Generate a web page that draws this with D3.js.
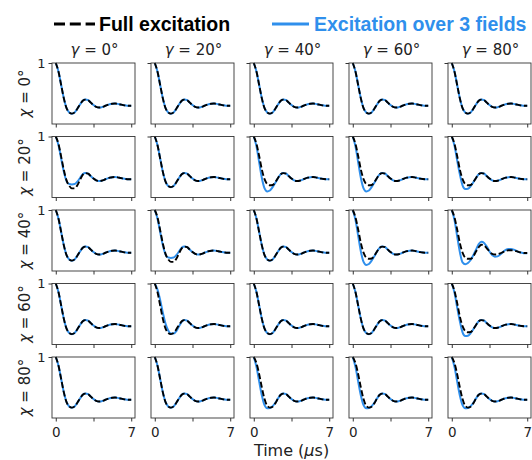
<!DOCTYPE html>
<html><head><meta charset="utf-8">
<script src="https://cdn.jsdelivr.net/npm/d3@7"></script>
<style>body{margin:0;background:#fff}svg{display:block}</style>
</head><body>
<div id="chart"></div>
<script>
const gammaLabels = ["0°","20°","40°","60°","80°"];
const chiLabels = ["0°","20°","40°","60°","80°"];
const xTicks = [0, 3.5, 7];
const xTickLabels = {0:"0", 7:"7"};
const yTicks = [1];
const times = [0,0.25,0.5,0.75,1,1.25,1.5,1.75,2,2.25,2.5,2.75,3,3.25,3.5,3.75,4,4.25,4.5,4.75,5,5.25,5.5,5.75,6,6.25,6.5,6.75,7];
const tail = [0.39,0.35,0.31,0.28,0.27,0.275,0.29,0.31,0.325,0.333,0.335,0.33,0.32,0.31,0.303,0.30,0.30];

const fullBase     = [1.00,0.86,0.64,0.42,0.26,0.19,0.17,0.19,0.25,0.32,0.38,0.40].concat(tail);
const fullFlat     = [1.00,0.88,0.68,0.46,0.30,0.22,0.20,0.205,0.25,0.32,0.38,0.40].concat(tail);
const fullFlatHigh = [1.00,0.88,0.68,0.46,0.30,0.22,0.20,0.20,0.24,0.32,0.39,0.43,0.42,0.37,0.32,0.28,0.27,0.275,0.29,0.31,0.33,0.34,0.34,0.335,0.325,0.31,0.30,0.295,0.295];
const fullDeepLate = [1.00,0.88,0.67,0.45,0.28,0.19,0.15,0.15,0.20,0.29,0.37,0.40].concat(tail);
const fullLate     = [1.00,0.90,0.72,0.50,0.31,0.20,0.17,0.185,0.24,0.32,0.38,0.40].concat(tail);

const blueBase    = [1.00,0.86,0.64,0.42,0.26,0.19,0.17,0.19,0.25,0.32,0.38,0.40].concat(tail);
const blueDeep    = [1.00,0.84,0.58,0.32,0.15,0.10,0.115,0.17,0.24,0.32,0.38,0.40].concat(tail);
const blueMid     = [1.00,0.85,0.61,0.38,0.20,0.14,0.145,0.185,0.25,0.32,0.38,0.40].concat(tail);
const blueBig     = [1.00,0.84,0.57,0.31,0.14,0.11,0.13,0.18,0.26,0.35,0.44,0.48,0.46,0.40,0.32,0.26,0.235,0.24,0.27,0.31,0.345,0.36,0.36,0.35,0.33,0.31,0.30,0.29,0.29];
const blueShallow = [1.00,0.86,0.64,0.42,0.27,0.22,0.215,0.22,0.26,0.32,0.38,0.40].concat(tail);
const blueLate    = [1.00,0.90,0.73,0.52,0.34,0.23,0.18,0.18,0.22,0.30,0.37,0.40].concat(tail);
const blueEarly   = [1.00,0.84,0.60,0.37,0.21,0.16,0.165,0.195,0.25,0.32,0.38,0.40].concat(tail);

// rows = chi, cols = gamma
const fullGrid = [
  [fullBase, fullBase, fullBase, fullBase, fullBase],
  [fullDeepLate, fullBase, fullFlat, fullFlat, fullFlat],
  [fullBase, fullDeepLate, fullBase, fullFlat, fullFlatHigh],
  [fullBase, fullBase, fullBase, fullBase, fullFlat],
  [fullBase, fullBase, fullLate, fullLate, fullLate]
];
const blueGrid = [
  [blueBase, blueBase, blueBase, blueBase, blueBase],
  [blueShallow, blueBase, blueDeep, blueDeep, blueMid],
  [blueBase, blueShallow, blueBase, blueDeep, blueBig],
  [blueBase, blueLate, blueBase, blueBase, blueMid],
  [blueBase, blueBase, blueEarly, blueEarly, blueEarly]
];

const W = 532, H = 460;
const BLUE = "#2f8fec";
const svg = d3.select("#chart").append("svg").attr("width", W).attr("height", H);

const left0 = 52, colStep = 99, pw = 83;
const top0 = 63, rowStep = 73.5, ph = 61;

const x = d3.scaleLinear().domain([-0.35, 7.35]).range([0, pw]);
const y = d3.scaleLinear().domain([0, 1]).range([ph, 0]);
const line = d3.line().x(d => x(d[0])).y(d => y(d[1])).curve(d3.curveMonotoneX);

const defs = svg.append("defs");
defs.append("clipPath").attr("id", "pclip").append("rect")
  .attr("x", 0).attr("y", -1).attr("width", pw).attr("height", ph + 2);

const mathFont = "DejaVu Sans, sans-serif";

for (let r = 0; r < 5; r++) {
  for (let c = 0; c < 5; c++) {
    const g = svg.append("g").attr("transform", `translate(${left0 + c * colStep},${top0 + r * rowStep})`);
    const body = g.append("g").attr("clip-path", "url(#pclip)");
    body.append("path").datum(times.map((t, i) => [t, blueGrid[r][c][i]]))
      .attr("d", line).attr("fill", "none").attr("stroke", BLUE).attr("stroke-width", 2);
    body.append("path").datum(times.map((t, i) => [t, fullGrid[r][c][i]]))
      .attr("d", line).attr("fill", "none").attr("stroke", "#000").attr("stroke-width", 1.9)
      .attr("stroke-dasharray", "6,2.6");
    g.append("rect").attr("x", 0).attr("y", 0).attr("width", pw).attr("height", ph)
      .attr("fill", "none").attr("stroke", "#333").attr("stroke-width", 0.9);

    const xa = g.append("g").attr("transform", `translate(0,${ph})`)
      .call(d3.axisBottom(x).tickValues(xTicks).tickSize(3.5)
        .tickFormat(d => r === 4 ? (xTickLabels[d] || "") : ""));
    xa.select(".domain").remove();
    xa.selectAll("line").attr("stroke", "#333");
    xa.selectAll("text").attr("font-family", mathFont).attr("font-size", 13.5).attr("fill", "#222").attr("dy", "0.95em");

    const ya = g.append("g")
      .call(d3.axisLeft(y).tickValues(yTicks).tickSize(3.5)
        .tickFormat(d => c === 0 ? String(d) : ""));
    ya.select(".domain").remove();
    ya.selectAll("line").attr("stroke", "#333");
    ya.selectAll("text").attr("font-family", mathFont).attr("font-size", 13).attr("fill", "#222");

    if (r === 0) {
      const t = svg.append("text")
        .attr("x", left0 + c * colStep + pw / 2 + 1).attr("y", 55)
        .attr("text-anchor", "middle").attr("font-family", mathFont).attr("font-size", 15).attr("fill", "#222");
      t.append("tspan").attr("font-style", "italic").text("γ");
      t.append("tspan").text(" = " + gammaLabels[c]);
    }
  }
  const rl = svg.append("text")
    .attr("transform", `translate(30,${top0 + r * rowStep + ph / 2}) rotate(-90)`)
    .attr("text-anchor", "middle").attr("font-family", mathFont).attr("font-size", 15).attr("fill", "#222");
  rl.append("tspan").attr("font-style", "italic").text("χ");
  rl.append("tspan").text(" = " + chiLabels[r]);
}

// x label
const xl = svg.append("text").attr("x", left0 + (4 * colStep + pw) / 2).attr("y", 456)
  .attr("text-anchor", "middle").attr("font-family", mathFont).attr("font-size", 16).attr("fill", "#222");
xl.append("tspan").text("Time (");
xl.append("tspan").attr("font-style", "italic").text("μ");
xl.append("tspan").text("s)");

// legend
const lg = svg.append("g");
lg.append("line").attr("x1", 54).attr("x2", 95).attr("y1", 24).attr("y2", 24)
  .attr("stroke", "#000").attr("stroke-width", 3).attr("stroke-dasharray", "11,4.8");
lg.append("text").attr("x", 99).attr("y", 31).text("Full excitation")
  .attr("font-family", "Liberation Sans, Arial, sans-serif").attr("font-weight", "bold").attr("font-size", 19.5).attr("fill", "#000");
lg.append("line").attr("x1", 272).attr("x2", 309).attr("y1", 24).attr("y2", 24)
  .attr("stroke", BLUE).attr("stroke-width", 3);
lg.append("text").attr("x", 314).attr("y", 31).text("Excitation over 3 fields")
  .attr("font-family", "Liberation Sans, Arial, sans-serif").attr("font-weight", "bold").attr("font-size", 19.5).attr("fill", BLUE);
</script>
</body></html>
